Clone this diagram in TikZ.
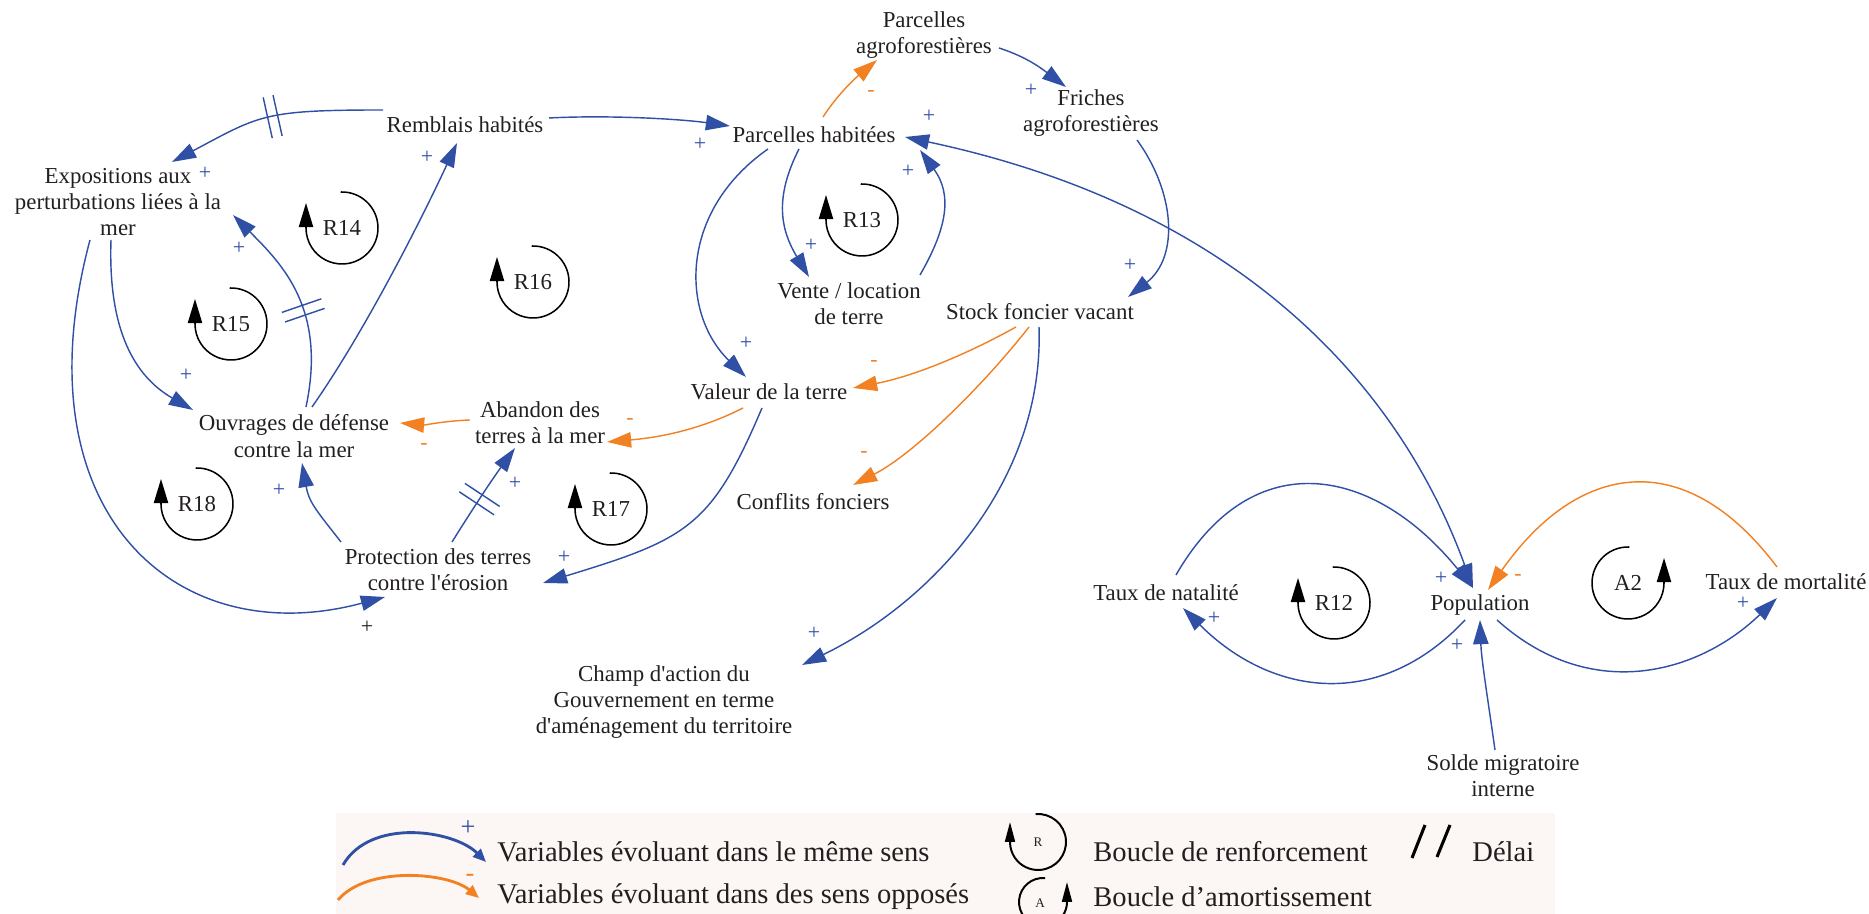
\documentclass[tikz,border=0pt]{standalone}
\usepackage{fontspec}
\setmainfont{Liberation Serif}
\usepackage{tikz}
\usetikzlibrary{arrows.meta, calc, decorations.markings}
\definecolor{linkblue}{HTML}{3050A6}
\definecolor{linkorange}{HTML}{F28123}
\definecolor{textdark}{HTML}{231F20}
\definecolor{legendbg}{HTML}{FCF7F4}
\tikzset{
  % variables of the diagram
  varbox/.style={align=center, font=\fontsize{10.4}{12}\selectfont,
    text=textdark, inner sep=2pt},
  % causal links
  plusarr/.style={draw=linkblue, line width=0.65pt,
    -{Triangle[length=11pt, width=7pt]}},
  plusboth/.style={draw=linkblue, line width=0.65pt,
    {Triangle[length=11pt, width=7pt]}-{Triangle[length=11pt, width=7pt]}},
  minusarr/.style={draw=linkorange, line width=0.65pt,
    -{Triangle[length=11pt, width=7pt]}},
  delayed/.style={postaction={decorate, decoration={markings,
    mark=at position #1 with {\draw[linkblue, line width=0.65pt, -]
      (-2.3pt,-9.5pt) -- (-2.3pt,9.5pt) (2.3pt,-9.5pt) -- (2.3pt,9.5pt);}}}},
  % polarity signs
  possign/.style={font=\fontsize{10}{12}\selectfont, text=linkblue, inner sep=0pt},
  negsign/.style={font=\fontsize{10}{12}\selectfont, text=linkorange, inner sep=0pt},
  % loop symbols
  looplabel/.style={font=\fontsize{10.4}{12}\selectfont, text=textdark, inner sep=0pt},
  loopline/.style={draw=black, line width=0.7pt,
    -{Triangle[length=11pt, width=6.5pt]}},
  rloop/.pic={\draw[loopline] (92:36) arc[start angle=92, end angle=-180, radius=36] -- ++(0,25);},
  aloop/.pic={\draw[loopline] (88:36) arc[start angle=88, end angle=360, radius=36] -- ++(0,25);},
  % legend
  legtext/.style={font=\fontsize{13}{15}\selectfont, text=textdark,
    anchor=west, inner sep=0pt},
  legline/.style={line width=1.3pt, -{Triangle[length=6pt, width=5pt]}},
  legloop/.style={draw=black, line width=0.9pt,
    -{Triangle[length=9pt, width=4.5pt]}},
}

\begin{document}
\begin{tikzpicture}[x=0.016cm, y=0.016cm]
  \useasboundingbox (0,0) rectangle (1869,914);
  \clip (0,0) rectangle (1869,914);

  % variables
  \node[varbox] (remb) at (465,789) {Remblais habités};
  \node[varbox] (expo) at (118,712) {Expositions aux\\perturbations liées à la\\mer};
  \node[varbox] (parch) at (814,779) {Parcelles habitées};
  \node[varbox] (parcagro) at (924,879) {Parcelles\\agroforestières};
  \node[varbox] (friches) at (1091,801) {Friches\\agroforestières};
  \node[varbox] (vente) at (849,610) {Vente / location\\de terre};
  \node[varbox] (stock) at (1040,602) {Stock foncier vacant};
  \node[varbox] (valeur) at (769,522) {Valeur de la terre};
  \node[varbox] (abandon) at (540,491) {Abandon des\\terres à la mer};
  \node[varbox] (ouvr) at (294,478) {Ouvrages de défense\\contre la mer};
  \node[varbox] (conflits) at (813,412) {Conflits fonciers};
  \node[varbox] (protec) at (438,344) {Protection des terres\\contre l\textquotesingle érosion};
  \node[varbox] (champ) at (664,212) {Champ d\textquotesingle action du\\Gouvernement en terme\\d\textquotesingle aménagement du territoire};
  \node[varbox] (natal) at (1166,321) {Taux de natalité};
  \node[varbox] (popul) at (1480,309) {Population};
  \node[varbox] (mortal) at (1786,332) {Taux de mortalité};
  \node[varbox] (solde) at (1503,138) {Solde migratoire\\interne};

  % positive links
  \draw[plusarr, delayed=0.5] ($(remb)+(-82,15)$) .. controls +(180:120) and +(28:100) .. ($(expo)+(54,40)$);
  \draw[plusarr] ($(remb)+(84,7)$) .. controls +(3:60) and +(172:50) .. ($(parch)+(-84,9)$);
  \draw[plusarr] ($(ouvr)+(18,29)$) .. controls +(55:90) and +(245:90) .. ($(remb)+(-8,-18)$);
  \draw[plusarr, delayed=0.45] ($(ouvr)+(12,29)$) .. controls +(78:100) and +(-45:70) .. ($(expo)+(115,-13)$);
  \draw[plusarr] ($(expo)+(-7,-38)$) .. controls +(-92:100) and +(150:60) .. ($(ouvr)+(-101,26)$);
  \draw[plusarr] ($(expo)+(-28,-38)$) .. controls +(255:280) and +(195:218) .. ($(protec)+(-53,-27)$);
  \draw[plusarr] ($(protec)+(-97,28)$) .. controls +(128:40) and +(-80:40) .. ($(ouvr)+(8,-27)$);
  \draw[plusarr, delayed=0.45] ($(protec)+(14,28)$) .. controls +(58:40) and +(234:40) .. ($(abandon)+(-25,-25)$);
  \draw[plusarr] ($(valeur)+(-7,-16)$) .. controls +(247:130) and +(17:150) .. ($(protec)+(105,-13)$);
  \draw[plusarr] ($(parch)+(-46,-14)$) .. controls +(215:110) and +(136:90) .. ($(valeur)+(-23,15)$);
  \draw[plusarr] ($(parch)+(-15,-14)$) .. controls +(243:55) and +(121:55) .. ($(vente)+(-40,27)$);
  \draw[plusarr] ($(vente)+(71,29)$) .. controls +(60:55) and +(-54:55) .. ($(parch)+(106,-15)$);
  \draw[plusarr] ($(parcagro)+(75,-13)$) .. controls +(-18:30) and +(143:30) .. ($(friches)+(-25,26)$);
  \draw[plusarr] ($(friches)+(46,-27)$) .. controls +(-54:65) and +(38:65) .. ($(stock)+(88,15)$);
  \draw[plusarr] ($(stock)+(-1,-15)$) .. controls +(-88:150) and +(26:150) .. ($(champ)+(138,37)$);
  \draw[plusboth] ($(parch)+(91,-2)$) .. controls +(-12:340) and +(110:218) .. ($(popul)+(-7,17)$);
  \draw[plusarr] ($(natal)+(10,18)$) .. controls +(60:155) and +(129:155) .. ($(popul)+(-7,17)$);
  \draw[plusarr] ($(popul)+(-15,-15)$) .. controls +(227:125) and +(-45:125) .. ($(natal)+(17,-15)$);
  \draw[plusarr] ($(popul)+(17,-15)$) .. controls +(-42:125) and +(224:110) .. ($(mortal)+(-9,-16)$);
  \draw[plusarr] ($(solde)+(-8,26)$) .. controls +(98:50) and +(-88:40) .. ($(popul)+(0,-15)$);

  % negative links
  \draw[minusarr] ($(mortal)+(-9,15)$) .. controls +(127:155) and +(55:155) .. ($(popul)+(8,15)$);
  \draw[minusarr] ($(parch)+(9,18)$) .. controls +(57:30) and +(220:25) .. ($(parcagro)+(-47,-25)$);
  \draw[minusarr] ($(stock)+(-24,-15)$) .. controls +(209:60) and +(11:60) .. ($(valeur)+(84,4)$);
  \draw[minusarr] ($(stock)+(-11,-15)$) .. controls +(232:70) and +(27:70) .. ($(conflits)+(40,17)$);
  \draw[minusarr] ($(valeur)+(-26,-16)$) .. controls +(207:50) and +(5:50) .. ($(abandon)+(67,-19)$);
  \draw[minusarr] ($(abandon)+(-70,3)$) .. controls +(182:25) and +(-5:25) .. ($(ouvr)+(106,13)$);

  % signs
  \node[possign] (p1) at (205,741) {+};
  \node[possign] (p2) at (427,757) {+};
  \node[possign] (p3) at (239,666) {+};
  \node[possign] (p4) at (186,539) {+};
  \node[possign, text=textdark] (p5) at (367,287) {+};
  \node[possign] (p6) at (279,424) {+};
  \node[possign] (p7) at (515,431) {+};
  \node[possign] (p8) at (564,357) {+};
  \node[possign] (p9) at (700,770) {+};
  \node[possign] (p10) at (929,798) {+};
  \node[possign] (p11) at (908,743) {+};
  \node[possign] (p12) at (811,669) {+};
  \node[possign] (p13) at (1031,824) {+};
  \node[possign] (p14) at (1130,649) {+};
  \node[possign] (p15) at (746,571) {+};
  \node[possign] (p16) at (814,281) {+};
  \node[possign] (p17) at (1441,336) {+};
  \node[possign] (p18) at (1457,269) {+};
  \node[possign] (p19) at (1214,296) {+};
  \node[possign] (p20) at (1743,311) {+};
  \node[negsign] (m1) at (871,820) {-};
  \node[negsign] (m2) at (424,467) {-};
  \node[negsign] (m3) at (630,492) {-};
  \node[negsign] (m4) at (874,550) {-};
  \node[negsign] (m5) at (864,459) {-};
  \node[negsign] (m6) at (1518,336) {-};

  % loops
  \pic at (342,686) {rloop}; \node[looplabel] (r14) at (342,686) {R14};
  \pic at (231,590) {rloop}; \node[looplabel] (r15) at (231,590) {R15};
  \pic at (533,632) {rloop}; \node[looplabel] (r16) at (533,632) {R16};
  \pic at (862,694) {rloop}; \node[looplabel] (r13) at (862,694) {R13};
  \pic at (197,410) {rloop}; \node[looplabel] (r18) at (197,410) {R18};
  \pic at (611,405) {rloop}; \node[looplabel] (r17) at (611,405) {R17};
  \pic at (1334,311) {rloop}; \node[looplabel] (r12) at (1334,311) {R12};
  \pic at (1628,331) {aloop}; \node[looplabel] (a2) at (1628,331) {A2};

  % legend
  \fill[legendbg] (336,0) rectangle (1555,101);
  \coordinate (lgbs) at (343,49);
  \coordinate (lgbe) at (486,52);
  \coordinate (lgos) at (338,14);
  \coordinate (lgoe) at (479,16);
  \draw[legline, linkblue] (lgbs) .. controls +(60:55) and +(135:45) .. (lgbe);
  \draw[legline, linkorange] (lgos) .. controls +(50:45) and +(140:40) .. (lgoe);
  \node[possign, font=\fontsize{12}{14}\selectfont] (lgp) at (468,86) {+};
  \node[negsign, font=\fontsize{12}{14}\selectfont] (lgm) at (470,36) {-};
  \node[legtext] (lgplus) at (497,62) {Variables évoluant dans le même sens};
  \node[legtext] (lgminus) at (497,17) {Variables évoluant dans des sens opposés};
  \draw[legloop] (1038,72) ++(95:28) arc[start angle=95, end angle=-180, radius=28] -- ++(0,20);
  \node[looplabel, font=\fontsize{6}{7}\selectfont] (lgrl) at (1038,72) {R};
  \draw[legloop] (1043,12) ++(85:24) arc[start angle=85, end angle=360, radius=24] -- ++(0,20);
  \node[looplabel, font=\fontsize{6}{7}\selectfont] (lgal) at (1040,11) {A};
  \node[legtext] (lgr) at (1093,62) {Boucle de renforcement};
  \node[legtext] (lga) at (1093,17) {Boucle d’amortissement};
  \draw[line width=1.4pt] (1425,89) -- (1412,56) (1450,89) -- (1437,57);
  \node[legtext] (lgdelai) at (1472,62) {Délai};
\end{tikzpicture}
\end{document}
